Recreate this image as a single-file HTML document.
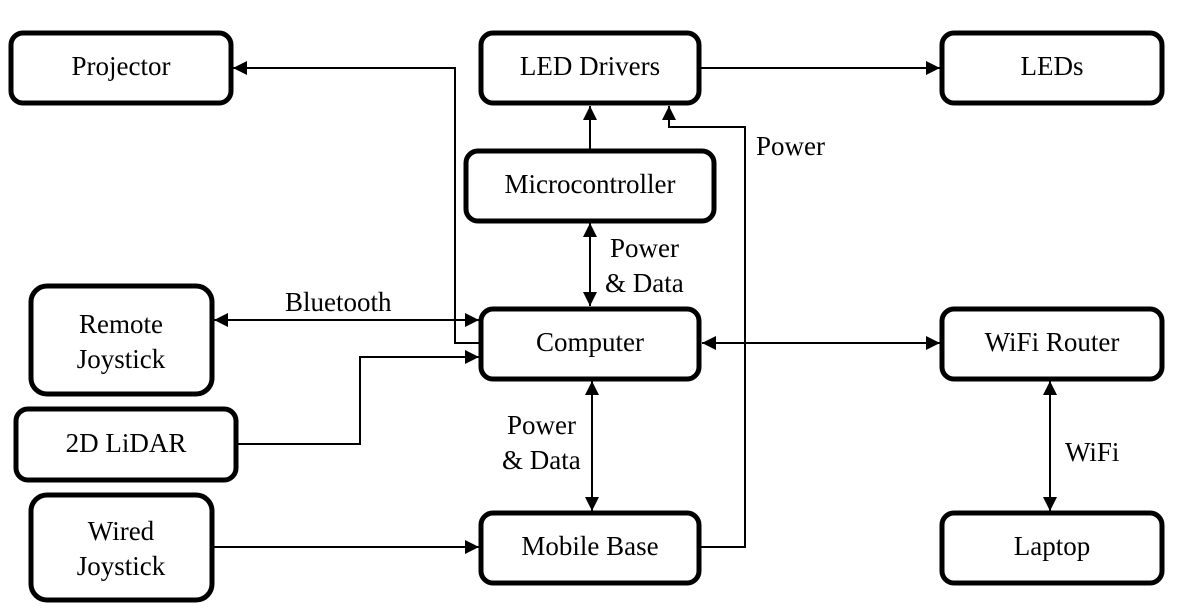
<!DOCTYPE html>
<html><head><meta charset="utf-8"><style>
body{margin:0;background:#fff;width:1181px;height:613px;overflow:hidden}
svg{display:block}
svg text{font-family:"Liberation Serif","Times New Roman","DejaVu Serif",serif;font-size:27px;fill:#000}
</style></head><body>
<svg width="1181" height="613" viewBox="0 0 1181 613" font-family="Liberation Serif, Times New Roman, DejaVu Serif, serif">
<defs><marker id="a" viewBox="0 0 10 10" refX="10" refY="5" markerWidth="14" markerHeight="14" markerUnits="userSpaceOnUse" orient="auto-start-reverse"><path d="M0,0L10,5L0,10z"/></marker></defs>
<g fill="none" stroke="#000" stroke-width="5">
<rect x="11" y="33" width="220" height="70" rx="12"/>
<rect x="481" y="33" width="218" height="70" rx="12"/>
<rect x="942" y="33" width="220" height="70" rx="12"/>
<rect x="466" y="151" width="248" height="70" rx="12"/>
<rect x="481" y="309" width="218" height="70" rx="12"/>
<rect x="942" y="309" width="220" height="70" rx="12"/>
<rect x="31" y="286" width="181" height="108" rx="16"/>
<rect x="16" y="409" width="220" height="71" rx="12"/>
<rect x="31" y="495" width="181" height="105" rx="16"/>
<rect x="481" y="513" width="218" height="70" rx="12"/>
<rect x="942" y="513" width="220" height="70" rx="12"/>
</g>
<g fill="none" stroke="#000" stroke-width="2">
<path d="M480,343H455V68H233" marker-end="url(#a)"/>
<path d="M700,68H940" marker-end="url(#a)"/>
<path d="M590,150V106" marker-end="url(#a)"/>
<path d="M700,547H745V127H669V106" marker-end="url(#a)"/>
<path d="M590,223V306" marker-start="url(#a)" marker-end="url(#a)"/>
<path d="M214,320H479" marker-start="url(#a)" marker-end="url(#a)"/>
<path d="M237,444H360V357H479" marker-end="url(#a)"/>
<path d="M702,343H940" marker-start="url(#a)" marker-end="url(#a)"/>
<path d="M592,381V511" marker-start="url(#a)" marker-end="url(#a)"/>
<path d="M212,547H479" marker-end="url(#a)"/>
<path d="M1050,381V511" marker-start="url(#a)" marker-end="url(#a)"/>
</g>
<g text-anchor="middle">
<text x="121" y="75">Projector</text>
<text x="590" y="75">LED Drivers</text>
<text x="1052" y="75">LEDs</text>
<text x="590" y="193">Microcontroller</text>
<text x="590" y="351">Computer</text>
<text x="1052" y="351">WiFi Router</text>
<text x="121" y="333">Remote</text>
<text x="121" y="368">Joystick</text>
<text x="126" y="452">2D LiDAR</text>
<text x="121" y="540">Wired</text>
<text x="121" y="575">Joystick</text>
<text x="590" y="555">Mobile Base</text>
<text x="1052" y="555">Laptop</text>
</g>
<text x="756" y="155">Power</text>
<text x="610" y="257">Power</text>
<text x="605" y="292">&amp; Data</text>
<text x="285" y="311">Bluetooth</text>
<text x="507" y="434">Power</text>
<text x="502" y="469">&amp; Data</text>
<text x="1065" y="461">WiFi</text>
</svg>
</body></html>
